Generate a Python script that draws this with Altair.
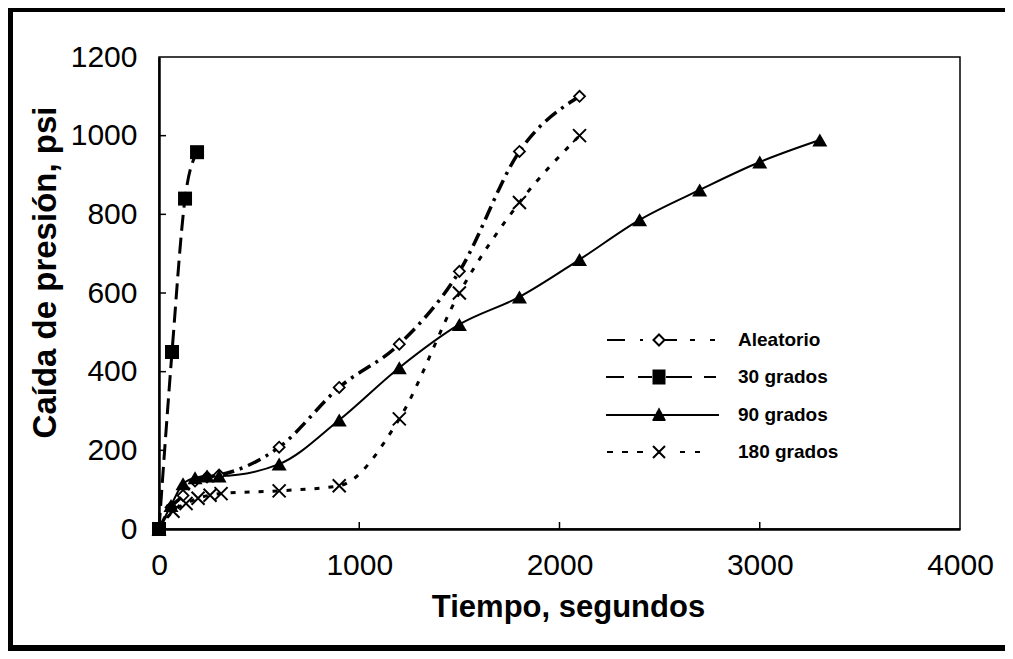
import altair as alt
import pandas as pd

# ---------------- data ----------------
series_names = ["Aleatorio", "30 grados", "90 grados", "180 grados"]

aleatorio_t = [0, 60, 120, 180, 240, 300, 600, 900, 1200, 1500, 1800, 2100]
aleatorio_p = [0, 55, 85, 122, 132, 137, 208, 360, 470, 655, 960, 1100]

g30_t = [0, 65, 130, 190]
g30_p = [0, 450, 840, 958]

g90_t = [0, 60, 120, 180, 240, 300, 600, 900, 1200, 1500, 1800, 2100, 2400, 2700, 3000, 3300]
g90_p = [0, 60, 115, 130, 135, 135, 165, 277, 410, 520, 590, 685, 786, 862, 933, 989]

g180_t = [0, 70, 135, 195, 255, 310, 600, 900, 1200, 1500, 1800, 2100]
g180_p = [0, 45, 65, 78, 86, 90, 97, 110, 280, 600, 830, 1000]

x_ticks = [0, 1000, 2000, 3000, 4000]
y_ticks = [0, 200, 400, 600, 800, 1000, 1200]

x_title = "Tiempo, segundos"
y_title = "Caída de presión, psi"

rows = []
for name, ts, ps in zip(series_names,
                        [aleatorio_t, g30_t, g90_t, g180_t],
                        [aleatorio_p, g30_p, g90_p, g180_p]):
    for t, p in zip(ts, ps):
        rows.append({"serie": name, "t": t, "p": p})
df = pd.DataFrame(rows)

# ---------------- layout / style ----------------
W, H = 801, 472
PAD = {"left": 151, "top": 49, "right": 45, "bottom": 122}
FONT = "Liberation Sans"

xscale = alt.Scale(domain=[x_ticks[0], x_ticks[-1]], nice=False, zero=False)
yscale = alt.Scale(domain=[y_ticks[0], y_ticks[-1]], nice=False, zero=False)

xaxis = alt.Axis(values=x_ticks, format="d", grid=False, ticks=False, tickSize=0,
                 domainColor="black", domainWidth=2.5,
                 labelFont=FONT, labelFontSize=30, labelColor="black",
                 labelPadding=36, labelBaseline="middle",
                 labelFlush=False, labelOverlap=False,
                 title=x_title, titleFont=FONT, titleFontSize=31, titleFontWeight="bold",
                 titleColor="black", titleX=409, titleY=78, titleBaseline="middle",
                 titleAlign="center")
yaxis = alt.Axis(values=y_ticks, format="d", grid=False, ticks=False, tickSize=0,
                 domainColor="black", domainWidth=2.5,
                 labelFont=FONT, labelFontSize=30, labelColor="black",
                 labelPadding=22, labelFlush=False, labelOverlap=False,
                 title=y_title, titleFont=FONT, titleFontSize=33, titleFontWeight="bold",
                 titleColor="black", titleX=-114, titleY=215, titleBaseline="middle",
                 titleAlign="center")

X = alt.X("t:Q", scale=xscale, axis=xaxis)
Y = alt.Y("p:Q", scale=yscale, axis=yaxis)

base = alt.Chart(df)


def line_layer(name, width, dash=None):
    kw = dict(color="black", strokeWidth=width, interpolate="monotone")
    if dash:
        kw["strokeDash"] = dash
    return base.transform_filter(alt.datum.serie == name).mark_line(**kw).encode(x=X, y=Y)


def point_layer(name, **kw):
    return base.transform_filter(alt.datum.serie == name).mark_point(opacity=1, **kw).encode(x=X, y=Y)


X_PATH = "M-1,-1L1,1M-1,1L1,-1"

lines = [
    line_layer("Aleatorio", 3.5, [14, 6, 3, 6]),
    line_layer("30 grados", 3, [16, 7]),
    line_layer("90 grados", 2),
    line_layer("180 grados", 3, [5, 9]),
]
points = [
    point_layer("Aleatorio", shape="diamond", filled=True, fill="white", stroke="black",
                strokeWidth=1.8, size=121),
    point_layer("180 grados", shape=X_PATH, filled=False, color="black", strokeWidth=2, size=169),
    point_layer("30 grados", shape="square", filled=True, color="black", size=196),
    point_layer("90 grados", shape="triangle-up", filled=True, color="black", size=225),
]

# inward tick marks
xt = alt.Chart(pd.DataFrame({"t": x_ticks[1:-1]})).mark_rule(color="black", strokeWidth=1.5).encode(
    x=X, y=alt.value(H), y2=alt.value(H - 7))
yt = alt.Chart(pd.DataFrame({"p": y_ticks[1:-1]})).mark_rule(color="black", strokeWidth=1.5).encode(
    y=Y, x=alt.value(0), x2=alt.value(7))

# ---------------- legend symbols (line + marker drawn as one path) ----------------
D = 36            # legend symbol box (px)
K = D / 2.0       # px per path unit


def seg(a, b):
    return f"M{a / K:.3f},0L{b / K:.3f},0"


def hatch_square(h):
    out = []
    y = -h
    while y <= h + 1e-6:
        out.append(f"M{-h / K:.3f},{y / K:.3f}L{h / K:.3f},{y / K:.3f}")
        y += 1.0
    return "".join(out)


def hatch_triangle(top, bottom, half):
    out = []
    y = top
    while y <= bottom + 1e-6:
        w = half * (y - top) / (bottom - top)
        out.append(f"M{-w / K:.3f},{y / K:.3f}L{w / K:.3f},{y / K:.3f}")
        y += 0.8
    return "".join(out)


r = 5.5
diamond = f"M{-r / K:.3f},0L0,{-r / K:.3f}L{r / K:.3f},0L0,{r / K:.3f}Z"
xr = 6
xmark = (f"M{-xr / K:.3f},{-xr / K:.3f}L{xr / K:.3f},{xr / K:.3f}"
         f"M{-xr / K:.3f},{xr / K:.3f}L{xr / K:.3f},{-xr / K:.3f}")

legend_paths = [
    seg(-52, -34) + seg(-19, -16) + diamond + seg(5.5, 18) + seg(31, 36) + seg(51, 56),
    seg(-53, -35) + seg(-21, -7) + hatch_square(6.5) + seg(7, 33) + seg(45, 57),
    seg(-53, 60) + hatch_triangle(-7, 5, 6.5),
    seg(-52, -46) + seg(-37, -31) + seg(-22, -16) + xmark + seg(21, 26) + seg(36, 41),
]

legend_layer = alt.Chart(pd.DataFrame({"serie": series_names})).mark_point(
    opacity=0, filled=False, color="black"
).encode(
    shape=alt.Shape("serie:N", scale=alt.Scale(domain=series_names, range=legend_paths),
                    legend=alt.Legend(title=None, orient="none", legendX=481, legendY=264,
                                      symbolSize=D * D, symbolStrokeWidth=2,
                                      symbolStrokeColor="black", symbolFillColor="transparent",
                                      symbolOpacity=1, labelFont=FONT, labelFontSize=19,
                                      labelFontWeight="bold", labelColor="black",
                                      labelOffset=60, rowPadding=8, padding=0, labelLimit=400))
)

# outer picture frame
frame = alt.Chart(pd.DataFrame({"k": [0]})).mark_rect(
    fillOpacity=0, stroke="black", strokeWidth=6
).encode(x=alt.value(-149), x2=alt.value(860), y=alt.value(-48), y2=alt.value(591))

chart = alt.layer(frame, *lines, *points, xt, yt, legend_layer).properties(
    width=W, height=H, padding=PAD, background="white",
    autosize=alt.AutoSizeParams(type="none"),
).configure_view(stroke="black", strokeWidth=1.5)

chart.save("out.html", embed_options={"renderer": "svg", "actions": False})
